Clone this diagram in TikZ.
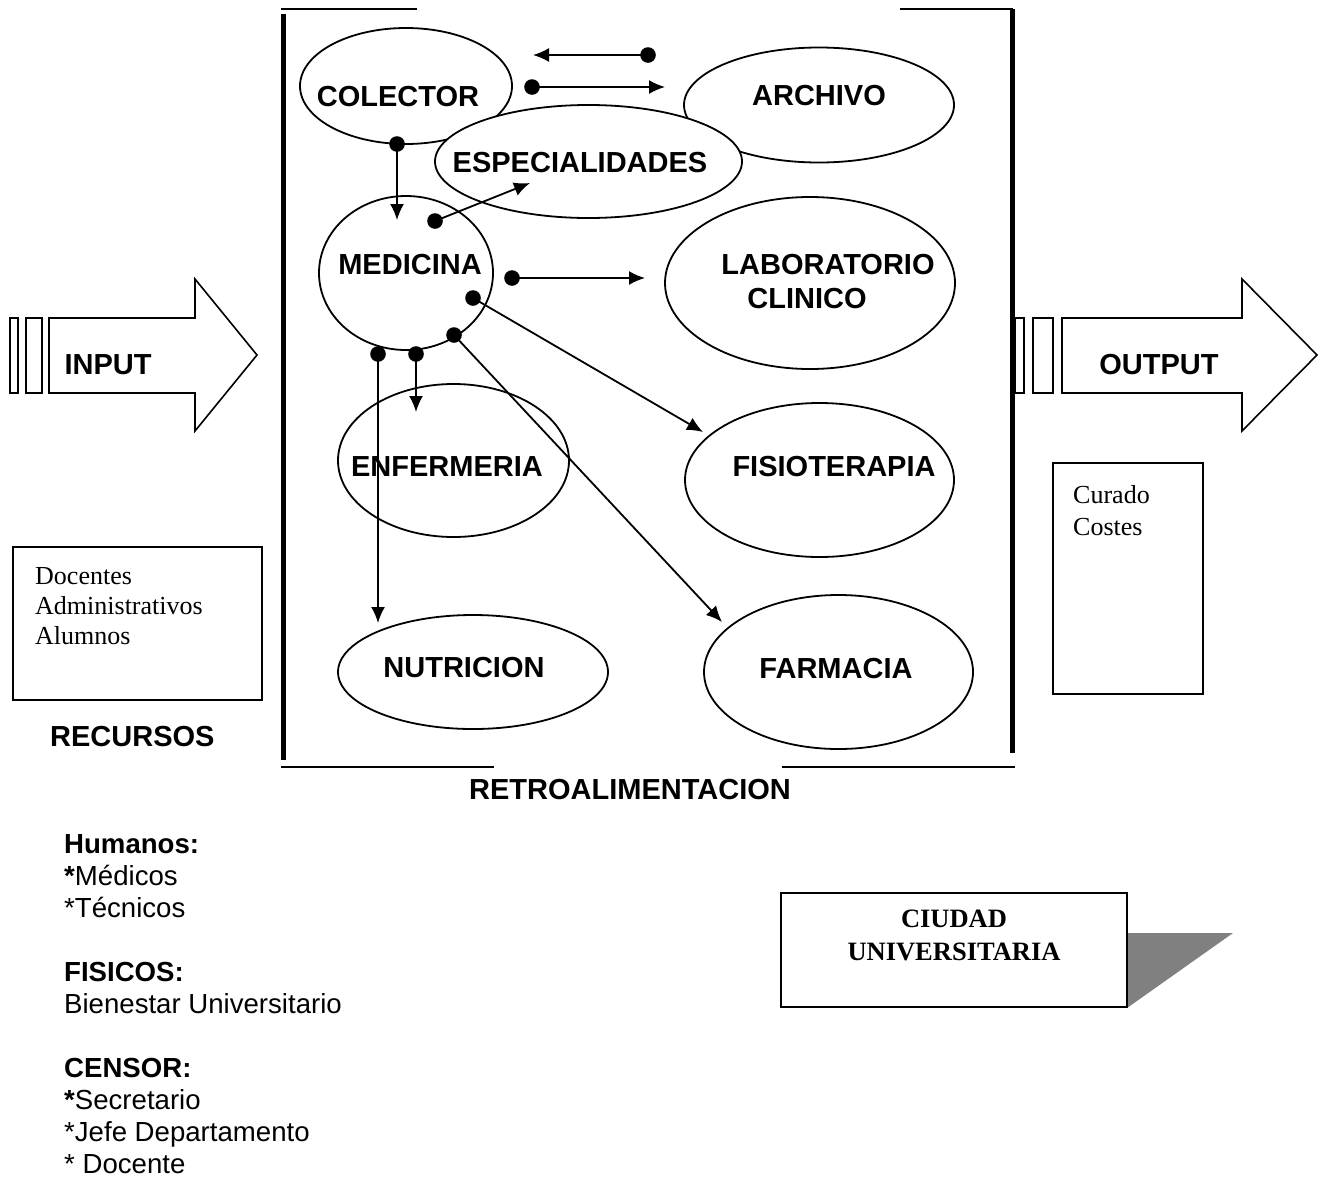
\documentclass[tikz,border=0pt]{standalone}
\usepackage{fontspec}
\setmainfont{Liberation Serif}
\newfontfamily\arialf{Liberation Sans}
\usetikzlibrary{arrows.meta,shapes.geometric}

\tikzset{
  ell/.style={ellipse, draw, line width=1.8pt, fill=white, inner sep=0pt},
  lbl/.style={font=\arialf\bfseries\fontsize{29}{33}\selectfont, inner sep=0pt},
  conn/.style={line width=1.8pt, -{Latex[length=16pt,width=14pt]}},
  dotmark/.style={fill=black},
  framev/.style={line width=5pt},
  frameh/.style={line width=2pt},
  bigarrow/.style={draw, line width=1.6pt, fill=white, line join=miter},
  serifbox/.style={draw, line width=1.6pt},
  sertext/.style={font=\fontsize{26}{30}\selectfont, align=left, inner sep=0pt},
}

\begin{document}
\begin{tikzpicture}[x=1pt, y=-1pt]
\useasboundingbox (0,0) rectangle (1321,1189);

% system boundary
\draw[frameh] (281,9) -- (417,9);
\draw[frameh] (900,9) -- (1013,9);
\draw[framev] (283,14) -- (283,760);
\draw[framev] (1012,9) -- (1012,753);
\draw[frameh] (281,767) -- (494,767);
\draw[frameh] (782,767) -- (1015,767);

% INPUT arrow
\draw[bigarrow] (10,318) rectangle (18,393);
\draw[bigarrow] (26,318) rectangle (42,393);
\draw[bigarrow] (49,318) -- (195,318) -- (195,279) -- (257,355) -- (195,431) -- (195,393) -- (49,393) -- cycle;
\node[lbl] (tin) at (108,365) {INPUT};

% OUTPUT arrow
\draw[bigarrow] (1015,318) rectangle (1024,393);
\draw[bigarrow] (1033,318) rectangle (1053,393);
\draw[bigarrow] (1062,318) -- (1242,318) -- (1242,279) -- (1317,355) -- (1242,431) -- (1242,393) -- (1062,393) -- cycle;
\node[lbl] (tout) at (1159,365) {OUTPUT};

% departments
\node[ell, minimum width=212pt, minimum height=116pt] (col) at (406,86) {};
\node[ell, minimum width=270pt, minimum height=115pt] (arc) at (819,105) {};
\node[ell, minimum width=307pt, minimum height=113pt] (esp) at (588.5,161.5) {};
\node[ell, minimum width=174pt, minimum height=154pt] (med) at (406,273) {};
\node[ell, minimum width=290pt, minimum height=172pt] (lab) at (810,283) {};
\node[ell, minimum width=231pt, minimum height=153pt] (enf) at (453.5,460.5) {};
\node[ell, minimum width=269pt, minimum height=154pt] (fis) at (819.5,480) {};
\node[ell, minimum width=270pt, minimum height=114pt] (nut) at (473,672) {};
\node[ell, minimum width=269pt, minimum height=154pt] (far) at (838.5,672) {};

\node[lbl] (tcol) at (398,97) {COLECTOR};
\node[lbl] (tarc) at (819,96) {ARCHIVO};
\node[lbl] (tesp) at (580,163) {ESPECIALIDADES};
\node[lbl] (tmed) at (410,265) {MEDICINA};
\node[lbl] (tlab1) at (828,265) {LABORATORIO};
\node[lbl] (tlab2) at (807,299) {CLINICO};
\node[lbl] (tenf) at (447,467) {ENFERMERIA};
\node[lbl] (tfis) at (834,467) {FISIOTERAPIA};
\node[lbl] (tnut) at (464,668) {NUTRICION};
\node[lbl] (tfar) at (836,669) {FARMACIA};

% connector end points
\coordinate (ac-s) at (648,55);  \coordinate (ac-e) at (533,55);
\coordinate (ca-s) at (532,87);  \coordinate (ca-e) at (665,87);
\coordinate (cm-s) at (397,144); \coordinate (cm-e) at (397,220);
\coordinate (me-s) at (435,221); \coordinate (me-e) at (530,183);
\coordinate (ml-s) at (512,278); \coordinate (ml-e) at (645,278);
\coordinate (mf-s) at (473,298); \coordinate (mf-e) at (703,432);
\coordinate (ma-s) at (454,335); \coordinate (ma-e) at (722,622);
\coordinate (mn-s) at (416,354); \coordinate (mn-e) at (416,412);
\coordinate (mu-s) at (378,354); \coordinate (mu-e) at (378,623);

\foreach \c in {ac,ca,cm,me,ml,mf,ma,mn,mu}{
  \draw[conn] (\c-s) -- (\c-e);
  \fill[dotmark] (\c-s) circle[radius=7.8pt];
}

% resources box
\draw[serifbox] (13,547) rectangle (262,700);
\node[sertext, anchor=base west] (rec1) at (35,584) {Docentes};
\node[sertext, anchor=base west] (rec2) at (35,614) {Administrativos};
\node[sertext, anchor=base west] (rec3) at (35,644) {Alumnos};
\node[lbl, anchor=west] (trec) at (50,737) {RECURSOS};

% results box
\draw[serifbox] (1053,463) rectangle (1203,694);
\node[sertext, anchor=base west] (res1) at (1073,503) {Curado};
\node[sertext, anchor=base west] (res2) at (1073,535) {Costes};

\node[lbl] (tretro) at (630,790) {RETROALIMENTACION};

% resources list
\begin{scope}[every node/.style={anchor=base west, inner sep=0pt, font=\arialf\fontsize{27.6}{32}\selectfont}]
\node (h0) at (64,853) {\bfseries Humanos:};
\node (h1) at (64,885) {{\bfseries *}Médicos};
\node (h2) at (64,917) {*Técnicos};
\node (f0) at (64,981) {\bfseries FISICOS:};
\node (f1) at (64,1013) {Bienestar Universitario};
\node (c0) at (64,1077) {\bfseries CENSOR:};
\node (c1) at (64,1109) {{\bfseries *}Secretario};
\node (c2) at (64,1141) {*Jefe Departamento};
\node (c3) at (64,1173) {* Docente};
\end{scope}

% location box with shadow
\fill[black!50] (1127,933) -- (1233,933) -- (1127,1008) -- cycle;
\draw[serifbox, fill=white] (781,893) rectangle (1127,1007);
\node[font=\bfseries\fontsize{26.5}{33}\selectfont, align=center, inner sep=0pt] (tciu) at (954,935) {CIUDAD\\UNIVERSITARIA};
\end{tikzpicture}
\end{document}
